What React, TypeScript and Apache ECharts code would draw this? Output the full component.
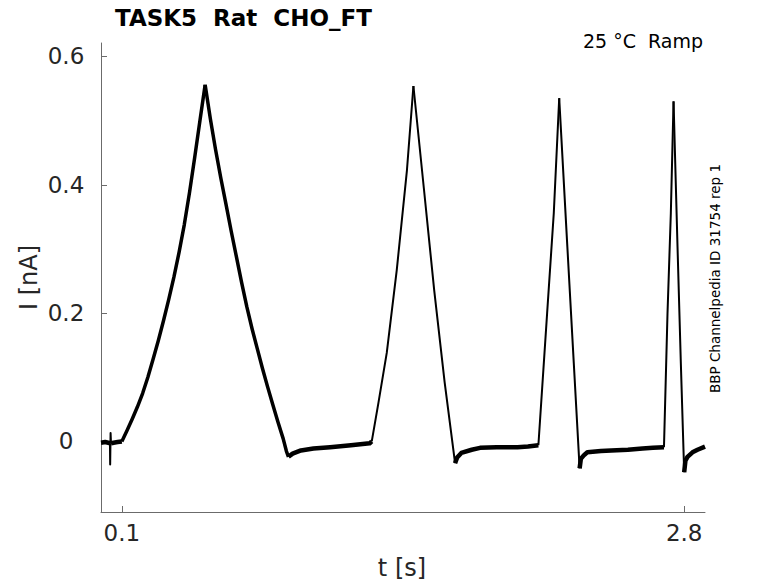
import React, { useEffect, useRef } from "react";
import * as echarts from "echarts";

// ---- Data (t in s, I in nA) ----
const flat0a: number[][] = [
  [0, -0.002], [0.02, -0.001], [0.035, -0.002], [0.043, -0.003],
];
const spike0: number[][] = [
  [0.043, -0.003], [0.044, -0.036], [0.046, 0.013], [0.048, -0.003],
];
const flat0b: number[][] = [
  [0.048, -0.003], [0.06, -0.002], [0.08, -0.001], [0.1, 0.0],
];
const ramp1Up: number[][] = [
  [0.1, 0.0], [0.125, 0.017], [0.15, 0.035], [0.175, 0.054], [0.2, 0.075],
  [0.225, 0.1], [0.25, 0.128], [0.275, 0.157], [0.3, 0.188], [0.325, 0.221],
  [0.35, 0.256], [0.375, 0.295], [0.4, 0.338], [0.425, 0.388], [0.45, 0.443],
  [0.475, 0.5], [0.5, 0.556],
];
const ramp1Down: number[][] = [
  [0.5, 0.556], [0.525, 0.503], [0.55, 0.455], [0.575, 0.411], [0.6, 0.37],
  [0.625, 0.328], [0.65, 0.288], [0.675, 0.248], [0.7, 0.21], [0.725, 0.176],
  [0.75, 0.145], [0.775, 0.114], [0.8, 0.085], [0.825, 0.057], [0.85, 0.03],
  [0.875, 0.004], [0.89, -0.015], [0.9, -0.024],
];
const flat1: number[][] = [
  [0.9, -0.024], [0.92, -0.019], [0.96, -0.014], [1.02, -0.011], [1.1, -0.009],
  [1.2, -0.006], [1.29, -0.003], [1.3, 0.0],
];
const ramp2Up: number[][] = [
  [1.3, 0.0], [1.332, 0.06], [1.372, 0.138], [1.42, 0.267], [1.469, 0.423],
  [1.5, 0.554],
];
const ramp2Down: number[][] = [
  [1.5, 0.554], [1.55, 0.395], [1.6, 0.235], [1.65, 0.092], [1.7, -0.034],
];
const flat2: number[][] = [
  [1.7, -0.034], [1.71, -0.025], [1.73, -0.018], [1.78, -0.013], [1.82, -0.01],
  [1.9, -0.009], [2.0, -0.009], [2.05, -0.008], [2.1, -0.006],
];
const ramp3Up: number[][] = [
  [2.1, -0.006], [2.142, 0.2], [2.174, 0.356], [2.2, 0.535],
];
const ramp3Down: number[][] = [
  [2.2, 0.535], [2.239, 0.304], [2.27, 0.122], [2.298, -0.042],
];
const flat3: number[][] = [
  [2.298, -0.042], [2.304, -0.027], [2.32, -0.021], [2.335, -0.017], [2.4, -0.015],
  [2.45, -0.014], [2.53, -0.013], [2.6, -0.011], [2.65, -0.01], [2.703, -0.009],
];
const ramp4Up: number[][] = [
  [2.703, -0.009], [2.72, 0.2], [2.736, 0.356], [2.749, 0.53],
];
const ramp4Down: number[][] = [
  [2.749, 0.53], [2.768, 0.304], [2.784, 0.122], [2.8, -0.048],
];
const flat4: number[][] = [
  [2.8, -0.048], [2.806, -0.03], [2.816, -0.024], [2.84, -0.017], [2.864, -0.013],
  [2.9, -0.008],
];

const xTicks = [0.1, 2.8];
const yTicks = [0, 0.2, 0.4, 0.6];

const titleText = "TASK5  Rat  CHO_FT";
const conditionText = "25 \u00B0C  Ramp";
const sourceText = "BBP Channelpedia ID 31754 rep 1";
const xName = "t [s]";
const yName = "I [nA]";

const FONT = '"DejaVu Sans", Verdana, sans-serif';
const AXIS_COLOR = "#6b6b6b";
const TEXT_COLOR = "#262626";

function seg(data: number[][], width: number) {
  return {
    type: "line",
    data,
    showSymbol: false,
    symbol: "none",
    silent: true,
    lineStyle: { color: "#000", width, join: "round", cap: "butt" },
    z: width > 3 ? 2 : 3,
  };
}

export default function App() {
  const ref = useRef<HTMLDivElement>(null);
  useEffect(() => {
    if (!ref.current) return;
    const chart = echarts.init(ref.current, undefined, { renderer: "svg" });
    const axisCommon = {
      type: "value",
      axisLine: { show: true, onZero: false, lineStyle: { color: AXIS_COLOR, width: 1 } },
      splitLine: { show: false },
    };
    chart.setOption({
      animation: false,
      backgroundColor: "#fff",
      grid: { left: 101, right: 73, top: 43, bottom: 71, containLabel: false },
      xAxis: {
        ...axisCommon,
        min: 0,
        max: 2.9,
        axisTick: {
          show: true,
          inside: true,
          length: 6,
          customValues: xTicks,
          lineStyle: { color: AXIS_COLOR },
        },
        axisLabel: {
          show: true,
          customValues: xTicks,
          margin: 9,
          color: TEXT_COLOR,
          fontSize: 23,
          fontFamily: FONT,
        },
      },
      yAxis: {
        ...axisCommon,
        min: -0.11,
        max: 0.621,
        axisTick: {
          show: true,
          inside: true,
          length: 6,
          customValues: yTicks,
          lineStyle: { color: AXIS_COLOR },
        },
        axisLabel: {
          show: true,
          customValues: yTicks,
          margin: 35,
          align: "center",
          color: TEXT_COLOR,
          fontSize: 23,
          fontFamily: FONT,
        },
      },
      series: [
        seg(flat0a, 4.5),
        seg(spike0, 2),
        seg(flat0b, 4.5),
        seg(ramp1Up, 3.5),
        seg(ramp1Down, 3.5),
        seg(flat1, 4.5),
        seg(ramp2Up, 2),
        seg(ramp2Down, 2),
        seg(flat2, 4.5),
        seg(ramp3Up, 2),
        seg(ramp3Down, 2),
        seg(flat3, 4.5),
        seg(ramp4Up, 2),
        seg(ramp4Down, 2),
        seg(flat4, 4.5),
      ],
      graphic: [
        {
          type: "text",
          x: 115,
          y: 18,
          style: {
            text: titleText,
            font: `bold 23px ${FONT}`,
            fill: "#000",
            textAlign: "left",
            textVerticalAlign: "middle",
            align: "left",
            verticalAlign: "middle",
          },
        },
        {
          type: "text",
          x: 703,
          y: 40.5,
          style: {
            text: conditionText,
            font: `19px ${FONT}`,
            fill: "#000",
            textAlign: "right",
            textVerticalAlign: "middle",
            align: "right",
            verticalAlign: "middle",
          },
        },
        {
          type: "text",
          x: 715,
          y: 278.5,
          rotation: Math.PI / 2,
          style: {
            text: sourceText,
            font: `13.5px ${FONT}`,
            fill: "#000",
            textAlign: "center",
            textVerticalAlign: "middle",
            align: "center",
            verticalAlign: "middle",
          },
        },
        {
          type: "text",
          x: 28.5,
          y: 277.5,
          rotation: Math.PI / 2,
          style: {
            text: yName,
            font: `24px ${FONT}`,
            fill: TEXT_COLOR,
            textAlign: "center",
            textVerticalAlign: "middle",
            align: "center",
            verticalAlign: "middle",
          },
        },
        {
          type: "text",
          x: 402,
          y: 567.5,
          style: {
            text: xName,
            font: `24px ${FONT}`,
            fill: TEXT_COLOR,
            textAlign: "center",
            textVerticalAlign: "middle",
            align: "center",
            verticalAlign: "middle",
          },
        },
      ],
    });
    return () => chart.dispose();
  }, []);
  return (
    <div
      ref={ref}
      style={{ position: "absolute", left: 0, top: 0, width: 778, height: 583 }}
    />
  );
}
